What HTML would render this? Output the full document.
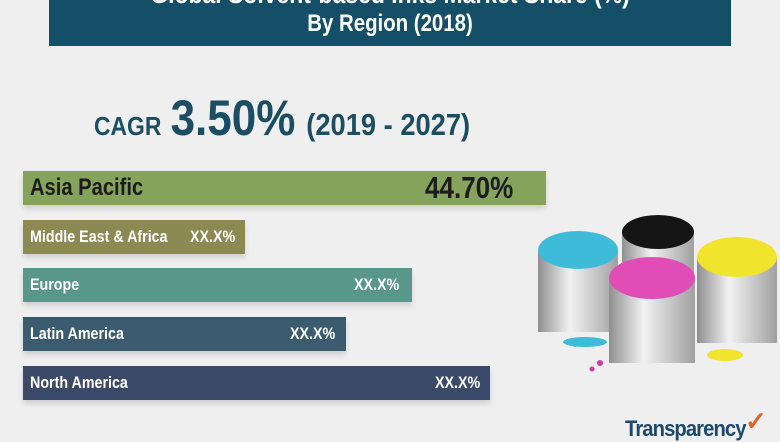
<!DOCTYPE html>
<html><head><meta charset="utf-8"><style>
body{margin:0;width:780px;height:440px;overflow:hidden;background:#efefef;font-family:"Liberation Sans",sans-serif;font-weight:bold;position:relative}
.abs{position:absolute}
.n{display:inline-block;transform:scaleX(0.84);transform-origin:left center;white-space:nowrap}
.hdr{left:49px;top:0;width:682px;height:46px;background:#154f67;color:#fff;overflow:hidden}
.bar{position:absolute;left:23px;height:34px;box-shadow:0 4px 5px rgba(0,0,0,0.12)}
.lab{position:absolute;left:7px;top:0;line-height:34px;color:#fff;font-size:17px}
.val{position:absolute;top:0;line-height:34px;color:#fff;font-size:17px}
</style></head><body>
<div class="abs hdr">
 <div class="abs" style="left:0;width:682px;top:-21px;text-align:center;font-size:27px;line-height:30px;transform:scaleX(0.85)">Global Solvent-based Inks Market Share (%)</div>
 <div class="abs" style="left:0;width:682px;top:9px;text-align:center;font-size:24px;line-height:30px;transform:scaleX(0.85)">By Region (2018)</div>
</div>
<div class="abs" style="left:94px;top:96px;color:#1b4d63;white-space:nowrap;line-height:44px;transform:scaleX(0.88);transform-origin:left center">
 <span style="font-size:26px">CAGR</span>
 <span style="font-size:50px;margin-left:6px">3.50%</span>
 <span style="font-size:31px;margin-left:8px">(2019 - 2027)</span>
</div>
<div class="bar" style="top:171px;width:523px;background:#86a35c"><span class="lab n" style="color:#1c1c1c;font-size:24px">Asia Pacific</span><span class="val n" style="color:#1c1c1c;font-size:31px;left:402px">44.70%</span></div>
<div class="bar" style="top:220px;width:222px;background:#8c8a52"><span class="lab n">Middle East &amp; Africa</span><span class="val n" style="left:167px">XX.X%</span></div>
<div class="bar" style="top:268px;width:389px;background:#5a978b"><span class="lab n">Europe</span><span class="val n" style="left:331px">XX.X%</span></div>
<div class="bar" style="top:317px;width:323px;background:#3b5c6e"><span class="lab n">Latin America</span><span class="val n" style="left:267px">XX.X%</span></div>
<div class="bar" style="top:366px;width:467px;background:#3c4a6a"><span class="lab n">North America</span><span class="val n" style="left:412px">XX.X%</span></div>
<svg class="abs" style="left:0;top:0" width="780" height="440">
 <defs><linearGradient id="m" x1="0" x2="1"><stop offset="0" stop-color="#8f8f8f"/><stop offset=".4" stop-color="#f2f2f2"/><stop offset="1" stop-color="#a0a0a0"/></linearGradient></defs>
 <rect x="622" y="232" width="72" height="85" fill="url(#m)"/><ellipse cx="658" cy="232" rx="36" ry="17" fill="#151515"/>
 <rect x="538" y="250" width="80" height="82" fill="url(#m)"/><ellipse cx="578" cy="250" rx="40" ry="19" fill="#3dbbd9"/>
 <rect x="697" y="257" width="80" height="86" fill="url(#m)"/><ellipse cx="737" cy="257" rx="40" ry="20" fill="#f0e52c"/>
 <rect x="609" y="278" width="86" height="85" fill="url(#m)"/><ellipse cx="652" cy="278" rx="43" ry="21" fill="#e04db6"/>
 <ellipse cx="585" cy="342" rx="22" ry="5" fill="#3dbbd9"/><ellipse cx="725" cy="355" rx="18" ry="6" fill="#f0e52c"/>
 <circle cx="600" cy="363" r="3" fill="#d03aa3"/><circle cx="592" cy="369" r="2.5" fill="#d03aa3"/><circle cx="575" cy="345" r="2" fill="#3dbbd9"/>
</svg>
<div class="abs" style="left:625px;top:416px;font-size:22px;color:#1d4a6c;letter-spacing:-1px;transform:scaleX(0.92);transform-origin:left">Transparency</div>
<div class="abs" style="left:745px;top:406px;font-size:26px;color:#e0632a">✓</div>
</body></html>
